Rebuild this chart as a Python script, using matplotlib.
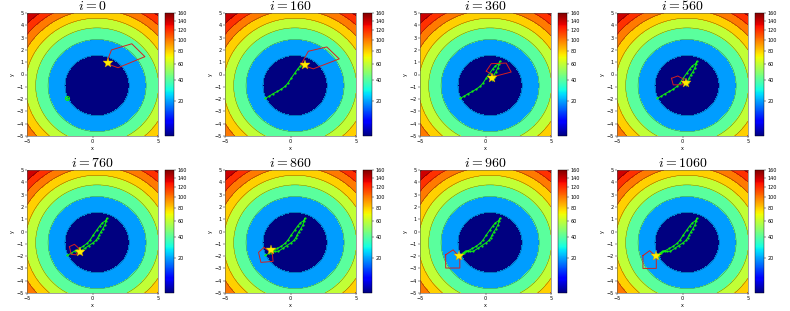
import numpy as np
import matplotlib
matplotlib.use('Agg')
import matplotlib.pyplot as plt
from matplotlib.colors import PowerNorm
from matplotlib.cm import ScalarMappable

plt.rcParams['mathtext.fontset'] = 'cm'

iterations = [0, 160, 360, 560, 760, 860, 960, 1060]

# bowl
bowl_center = (0.35, -0.9)
bowl_scale = 2.5
bowl_floor = 5.0
levels = np.arange(0, 200, 20)
cbar_ticks = np.arange(20, 180, 20)

# path of the best point (green), in order
traj_x = [-1.95, -1.65, -1.33, -1.0, -0.69, -0.4, -0.18, 0.05, 0.33, 0.55, 0.75, 1.0, 1.1,
          0.95, 0.78, 0.62, 0.52, 0.4, 0.28, 0.0, -0.3, -0.6, -0.92,
          -1.2, -1.52, -1.75, -2.0, -1.95]
traj_y = [-1.95, -1.78, -1.56, -1.38, -1.18, -0.95, -0.68, -0.3, 0.12, 0.45, 0.7, 0.88, 1.08,
          0.55, 0.2, -0.05, -0.26, -0.5, -0.71, -0.95, -1.15, -1.38, -1.6,
          -1.62, -1.58, -1.78, -1.97, -2.02]
# number of path points shown in each panel
traj_len = [1, 12, 17, 19, 23, 25, 27, 28]

# moving optimum (yellow star)
star_x = [1.17, 1.1, 0.52, 0.28, -0.92, -1.52, -2.02, -2.0]
star_y = [0.93, 0.76, -0.26, -0.71, -1.63, -1.54, -1.97, -1.96]

# simplex vertices (red)
simplex_x = [[1.05, 1.45, 3.0, 4.0, 1.95],
             [0.8, 1.36, 2.77, 3.72, 1.74],
             [0.06, 0.44, 1.58, 1.96, 0.7],
             [-0.84, -0.36, 0.1, -0.03, -0.71],
             [-1.76, -1.38, -1.05, -1.25, -1.63],
             [-2.04, -1.39, -1.33, -2.26, -2.44],
             [-3.04, -2.47, -1.96, -1.96, -3.04],
             [-3.02, -2.51, -2.0, -2.0, -3.02]]
simplex_y = [[0.9, 2.0, 2.5, 1.45, 0.55],
             [0.8, 1.89, 2.24, 1.27, 0.46],
             [0.28, 0.88, 0.93, 0.2, -0.15],
             [-0.31, -0.12, -0.39, -0.84, -0.84],
             [-1.23, -1.04, -1.36, -1.9, -1.85],
             [-1.3, -1.76, -2.43, -2.51, -1.7],
             [-1.89, -1.49, -2.11, -2.97, -2.97],
             [-1.96, -1.56, -2.05, -3.0, -3.0]]

x = np.linspace(-5, 5, 301)
X, Y = np.meshgrid(x, x)
Z = bowl_scale * ((X - bowl_center[0])**2 + (Y - bowl_center[1])**2) + bowl_floor

norm = PowerNorm(gamma=0.5, vmin=8, vmax=160, clip=True)
band_colors = plt.cm.jet(norm(levels[:-1]))

W, H = 790, 311
lefts = [27, 225, 420, 617]
tops = [13, 170]
aw, ah = 131, 123

fig = plt.figure(figsize=(W / 100, H / 100), dpi=100)

for k, it in enumerate(iterations):
    r, c = divmod(k, 4)
    b = 1 - (tops[r] + ah) / H
    ax = fig.add_axes([lefts[c] / W, b, aw / W, ah / H])
    cax = fig.add_axes([(lefts[c] + aw + 7) / W, b, 9 / W, ah / H])

    ax.contourf(X, Y, Z, levels=levels, colors=band_colors)
    ax.contour(X, Y, Z, levels=levels[1:], colors='k', linewidths=0.3, alpha=0.6)

    n = traj_len[k]
    if n == 1:
        ax.plot(traj_x[0], traj_y[0], 'o', ms=3, mfc='none', mec='#11ee11', mew=0.7)
        ax.plot(traj_x[0], traj_y[0], '+', ms=3, color='#11ee11', mew=0.6)
    else:
        ax.plot(traj_x[:n], traj_y[:n], '.-', color='#11ee11', lw=0.7, ms=1.2)
        ax.plot(traj_x[n - 1], traj_y[n - 1], '+', ms=4, color='#11ee11', mew=0.8)

    sx = simplex_x[k] + simplex_x[k][:1]
    sy = simplex_y[k] + simplex_y[k][:1]
    ax.plot(sx, sy, color='#d42020', lw=0.7)
    ax.plot(star_x[k], star_y[k], '*', ms=7, color='#ffee00', mec='#d4a000', mew=0.3)

    ax.set_xlim(-5, 5)
    ax.set_ylim(-5, 5)
    ax.set_xticks([-5, 0, 5])
    ax.set_yticks(range(-5, 6))
    ax.tick_params(labelsize=3.5, length=1.5, width=0.3, pad=1)
    ax.set_xlabel('x', fontsize=3.5, labelpad=1)
    ax.set_ylabel('y', fontsize=3.5, labelpad=1)
    for s in ax.spines.values():
        s.set_linewidth(0.4)
        s.set_color('#555555')
    ax.set_title(f'$i = {it}$', fontsize=10, pad=0.5)

    cb = fig.colorbar(ScalarMappable(norm=norm, cmap='jet'), cax=cax, ticks=cbar_ticks)
    cb.ax.tick_params(labelsize=3.5, length=1.5, width=0.3, pad=1)
    cb.outline.set_linewidth(0.3)

fig.savefig('out.png', dpi=100)
